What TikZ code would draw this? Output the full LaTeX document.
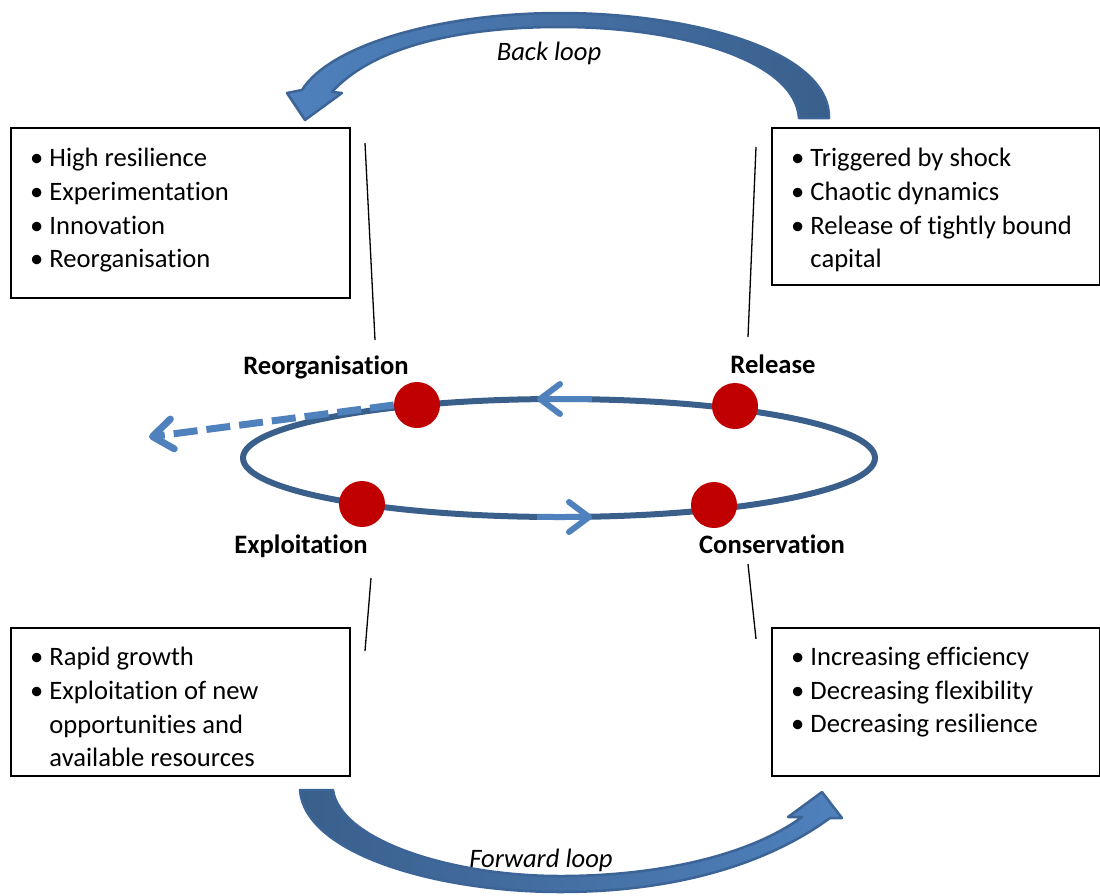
\documentclass[tikz,border=0pt]{standalone}
\usepackage{fontspec}
\setmainfont{Carlito}[Ligatures=NoCommon]
\usetikzlibrary{positioning,arrows.meta}
\definecolor{ringblue}{RGB}{58,95,139}
\definecolor{flowblue}{RGB}{79,129,189}
\definecolor{dotred}{RGB}{192,0,0}
\definecolor{edgeblue}{RGB}{60,100,150}
\newcommand{\diagfont}{\fontsize{26.6}{33.7}\selectfont}
\newcommand{\bul}{\textbullet\ }

\begin{document}
\begin{tikzpicture}[x=1pt, y=-1pt,
        infobox/.style = {draw, line width=1.5pt, anchor=north west, inner sep=0},
        boxtext/.style = {align=left, inner sep=0, font=\diagfont},
        phase/.style = {font=\diagfont\bfseries},
        looplabel/.style = {font=\diagfont\itshape},
        dot/.style = {circle, fill=dotred, minimum size=46pt, inner sep=0},
        ringline/.style = {draw=ringblue, line width=6pt},
        flow/.style = {flowblue, line width=6pt, -{Straight Barb[length=20pt, width=30pt, round]}},
        pointer/.style = {black, line width=1.3pt},
        bigarrow/.style = {draw=edgeblue, line width=2.5pt, line join=round}]
        \useasboundingbox (0,0) rectangle (1100,895);

        % back loop and forward loop
        \draw[bigarrow, left color=flowblue, right color=ringblue] (799,118) -- (829,118)
            .. controls (830,50) and (690,13) .. (560,13)
            .. controls (440,13) and (330,45) .. (302,90)
            -- (287,93) -- (305,120) -- (342,93) -- (332,92)
            .. controls (370,50) and (450,27) .. (560,27)
            .. controls (680,27) and (795,60) .. (799,118) -- cycle;
        \draw[bigarrow, left color=ringblue, right color=flowblue] (300,790) -- (333,790)
            .. controls (340,840) and (450,876) .. (560,876)
            .. controls (660,876) and (750,855) .. (802,817)
            -- (788,817) -- (822,792) -- (842,818) -- (830,818)
            .. controls (770,862) and (680,892) .. (560,892)
            .. controls (440,892) and (305,855) .. (300,790) -- cycle;
        \node[looplabel] (lblBack) at (549,53) {Back loop};
        \node[looplabel] (lblForward) at (541,860) {Forward loop};

        % boxes
        \node[infobox, minimum width=339pt, minimum height=170pt] (boxReorg) at (10,127) {};
        \node[infobox, minimum width=328pt, minimum height=157pt] (boxRelease) at (771,127) {};
        \node[infobox, minimum width=339pt, minimum height=148pt] (boxExploit) at (10,627) {};
        \node[infobox, minimum width=328pt, minimum height=148pt] (boxConserv) at (771,627) {};
        \node[boxtext, below right=21pt and 20pt of boxReorg.north west] (txtReorg)
            {\bul High resilience\\ \bul Experimentation\\ \bul Innovation\\ \bul Reorganisation};
        \node[boxtext, below right=21pt and 20pt of boxRelease.north west] (txtRelease)
            {\bul Triggered by shock\\ \bul Chaotic dynamics\\ \bul Release of tightly bound\\ \hphantom{\bul}capital};
        \node[boxtext, below right=20pt and 20pt of boxExploit.north west] (txtExploit)
            {\bul Rapid growth\\ \bul Exploitation of new\\ \hphantom{\bul}opportunities and\\ \hphantom{\bul}available resources};
        \node[boxtext, below right=20pt and 20pt of boxConserv.north west] (txtConserv)
            {\bul Increasing efficiency\\ \bul Decreasing flexibility\\ \bul Decreasing resilience};

        % adaptive cycle
        \coordinate (ring) at (559,458);
        \draw[ringline] (ring) ellipse [x radius=316, y radius=59];
        \node[dot] (dotReorg) at (417,405) {};
        \node[dot] (dotRelease) at (735,406) {};
        \node[dot] (dotExploit) at (362,504) {};
        \node[dot] (dotConserv) at (714,505) {};
        \coordinate (exit) at (149,437);
        \draw[flow, line width=7pt, dash pattern=on 24pt off 9pt] (dotReorg.west) -- (exit);
        \draw[flow] (592,399) -- (537,399);
        \draw[flow] (537,517) -- (592,517);

        \node[phase] (lblReorg) at (326,367) {Reorganisation};
        \node[phase] (lblRelease) at (773,364) {Release};
        \node[phase] (lblExploit) at (301,546) {Exploitation};
        \node[phase] (lblConserv) at (772,544) {Conservation};

        % pointers
        \coordinate (pReorgA) at (365,143);
        \coordinate (pReorgB) at (375,340);
        \coordinate (pReleaseA) at (756,147);
        \coordinate (pReleaseB) at (748,337);
        \coordinate (pExploitA) at (371,578);
        \coordinate (pExploitB) at (365,651);
        \coordinate (pConservA) at (748,564);
        \coordinate (pConservB) at (756,639);
        \draw[pointer] (pReorgA) -- (pReorgB);
        \draw[pointer] (pReleaseA) -- (pReleaseB);
        \draw[pointer] (pExploitA) -- (pExploitB);
        \draw[pointer] (pConservA) -- (pConservB);
\end{tikzpicture}
\end{document}
